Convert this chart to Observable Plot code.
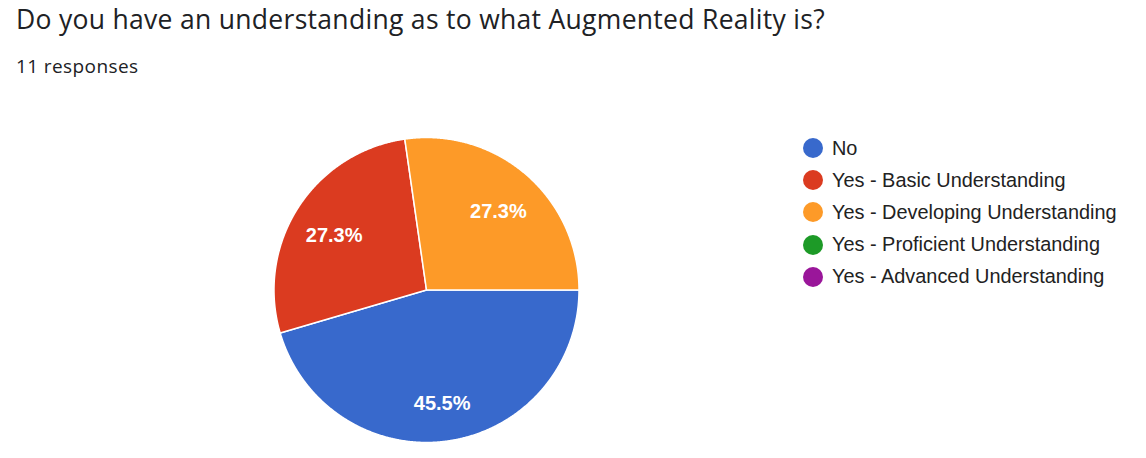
<!DOCTYPE html>
<html>
<head>
<meta charset="utf-8">
<script src="https://cdn.jsdelivr.net/npm/d3@7"></script>
<script src="https://cdn.jsdelivr.net/npm/@observablehq/plot@0.6"></script>
<style>
  html, body { margin: 0; padding: 0; background: #fff; }
  body { width: 1146px; height: 458px; position: relative; overflow: hidden; }
  #title { position: absolute; left: 16px; top: 1px; font-family: "Open Sans", Roboto, sans-serif; font-size: 26.5px; color: #202124; white-space: nowrap; line-height: 36px; letter-spacing: 0.3px; }
  #subtitle { position: absolute; left: 16px; top: 52px; font-family: "Open Sans", Roboto, sans-serif; font-size: 19px; color: #202124; line-height: 28px; letter-spacing: 0.4px; }
  #chart { position: absolute; left: 0; top: 95px; }
  #legend { position: absolute; left: 803px; top: 132px; font-family: "Liberation Sans", Arial, sans-serif; font-size: 19.9px; color: #222; }
  .row { display: flex; align-items: center; height: 32.2px; }
  .sw { width: 20px; height: 20px; border-radius: 50%; margin-right: 9px; flex: none; }
</style>
</head>
<body>
<div id="title">Do you have an understanding as to what Augmented Reality is?</div>
<div id="subtitle">11 responses</div>
<div id="chart"></div>
<div id="legend"></div>
<script>
const categories = ["No", "Yes - Basic Understanding", "Yes - Developing Understanding", "Yes - Proficient Understanding", "Yes - Advanced Understanding"];
const counts = [5, 3, 3, 0, 0];
const colors = ["#3869cc", "#db3b20", "#fd9a28", "#1d9a27", "#9a169a"];

const total = d3.sum(counts);
const pie = d3.pie().sort(null).startAngle(Math.PI / 2).endAngle(Math.PI / 2 + 2 * Math.PI);
const arcs = pie(counts).map((a, i) => ({...a, cat: categories[i]}));

// polygon outlines for each slice (unit radius), in data units
const outline = [];
arcs.filter(a => a.value > 0).forEach(a => {
  outline.push({cat: a.cat, x: 0, y: 0});
  const n = Math.max(2, Math.ceil((a.endAngle - a.startAngle) / 0.005));
  for (let k = 0; k <= n; k++) {
    const t = a.startAngle + (a.endAngle - a.startAngle) * k / n;
    outline.push({cat: a.cat, x: Math.sin(t), y: Math.cos(t)});
  }
  outline.push({cat: a.cat, x: 0, y: 0});
});

const labelR = 0.72;
const labels = arcs.filter(a => a.value > 0).map(a => {
  const m = (a.startAngle + a.endAngle) / 2;
  return {cat: a.cat, x: labelR * Math.sin(m), y: labelR * Math.cos(m), text: (100 * a.value / total).toFixed(1) + "%"};
});

const W = 1146, H = 363, R = 152.5, cx = 426, cy = 194.5;
const chart = Plot.plot({
  width: W, height: H,
  margin: 0,
  x: {domain: [-cx / R, (W - cx) / R], axis: null},
  y: {domain: [-(H - cy) / R, cy / R], axis: null},
  color: {domain: categories, range: colors},
  marks: [
    Plot.line(outline, {x: "x", y: "y", z: "cat", fill: "cat", stroke: "white", strokeWidth: 1.5, strokeLinejoin: "round", curve: "linear"}),
    Plot.text(labels, {x: "x", y: "y", dy: 5, text: "text", fill: "white", fontSize: 20, fontWeight: "bold", fontFamily: "Liberation Sans, Arial, sans-serif"})
  ]
});
document.getElementById("chart").appendChild(chart);

const legend = document.getElementById("legend");
categories.forEach((c, i) => {
  const row = document.createElement("div");
  row.className = "row";
  const sw = document.createElement("span");
  sw.className = "sw";
  sw.style.background = colors[i];
  const t = document.createElement("span");
  t.textContent = c;
  row.appendChild(sw); row.appendChild(t);
  legend.appendChild(row);
});
</script>
</body>
</html>
